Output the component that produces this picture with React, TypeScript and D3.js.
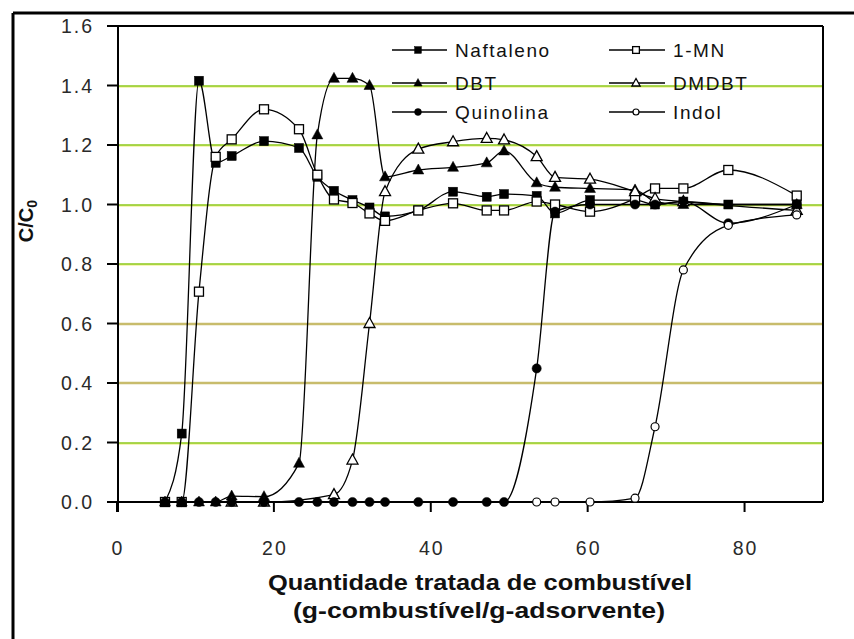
import React from "react";
import * as d3 from "d3";

type Pt = [number, number];

const naftaleno: Pt[] = [[6.12,0],[8.25,0.23],[10.45,1.416],[12.58,1.14],[14.62,1.163],[18.74,1.213],[23.2,1.19],[25.54,1.093],[27.66,1.046],[30.02,1.015],[32.19,0.99],[34.17,0.96],[38.41,0.98],[42.84,1.043],[47.13,1.026],[49.34,1.035],[53.5,1.029],[55.84,0.97],[60.3,1.015],[66.04,1.015],[68.59,1.0],[72.2,1.01],[77.93,1.0],[86.65,1.0]];
const mn1: Pt[] = [[6.12,0],[8.25,0],[10.45,0.707],[12.58,1.16],[14.62,1.219],[18.74,1.32],[23.2,1.253],[25.54,1.1],[27.66,1.017],[30.02,1.005],[32.19,0.97],[34.17,0.945],[38.41,0.98],[42.84,1.004],[47.13,0.98],[49.34,0.98],[53.5,1.01],[55.84,1.0],[60.3,0.976],[66.04,1.02],[68.59,1.054],[72.2,1.054],[77.93,1.116],[86.65,1.03]];
const dbt: Pt[] = [[6.12,0],[8.25,0],[10.45,0],[12.58,0],[14.62,0.02],[18.74,0.018],[23.2,0.13],[25.54,1.234],[27.66,1.424],[30.02,1.424],[32.19,1.4],[34.17,1.093],[38.41,1.116],[42.84,1.125],[47.13,1.14],[49.34,1.18],[53.5,1.073],[55.84,1.058],[60.3,1.054],[66.04,1.049],[68.59,1.01],[72.2,1.0],[86.65,1.0]];
const dmdbt: Pt[] = [[14.62,0],[18.74,0],[27.66,0.025],[30.02,0.141],[32.19,0.6],[34.17,1.043],[38.41,1.186],[42.84,1.211],[47.13,1.222],[49.34,1.217],[53.5,1.161],[55.84,1.091],[60.3,1.085],[66.04,1.043],[68.59,1.02],[72.2,1.01],[86.65,0.98]];
const quinolina: Pt[] = [[6.12,0],[8.25,0],[10.45,0],[12.58,0],[14.62,0],[18.74,0],[23.2,0],[25.54,0],[27.66,0],[30.02,0],[32.19,0],[34.17,0],[38.41,0],[42.84,0],[47.13,0],[49.34,0],[53.5,0.449],[55.84,0.976],[60.3,1.0],[66.04,1.0],[68.59,1.0],[72.2,1.01],[77.93,0.937],[86.65,1.0]];
const indol: Pt[] = [[53.5,0],[55.84,0],[60.3,0],[66.04,0.013],[68.59,0.253],[72.2,0.78],[77.93,0.93],[86.65,0.965]];

const seriesNames = ["Naftaleno", "1-MN", "DBT", "DMDBT", "Quinolina", "Indol"];
const seriesData = [naftaleno, mn1, dbt, dmdbt, quinolina, indol];
const seriesMarkers = ["square", "squareOpen", "triangle", "triangleOpen", "circle", "circleOpen"];

const xTicks = [0, 20, 40, 60, 80];
const yTicks = [0, 0.2, 0.4, 0.6, 0.8, 1.0, 1.2, 1.4, 1.6];

const W = 854, H = 639;
const x = d3.scaleLinear().domain([0, 90]).range([117, 823]);
const y = d3.scaleLinear().domain([0, 1.6]).range([502, 26]);

function Marker({ kind, cx, cy, s = 1 }: { kind: string; cx: number; cy: number; s?: number }) {
  const open = kind.endsWith("Open");
  const fill = open ? "#fff" : "#000";
  const sw = 1.3;
  if (kind.startsWith("square")) {
    const a = 9 * s;
    return <rect x={cx - a / 2} y={cy - a / 2} width={a} height={a} fill={fill} stroke="#000" strokeWidth={open ? sw : 0.5} />;
  }
  if (kind.startsWith("triangle")) {
    const w = 11 * s, h = 10 * s;
    const d = `M${cx},${cy - h * 0.6}L${cx + w / 2},${cy + h * 0.4}L${cx - w / 2},${cy + h * 0.4}Z`;
    return <path d={d} fill={fill} stroke="#000" strokeWidth={open ? sw : 0.5} strokeLinejoin="miter" />;
  }
  const r = (open ? 4 : 4.6) * s;
  return <circle cx={cx} cy={cy} r={r} fill={fill} stroke="#000" strokeWidth={open ? 1.2 : 0.5} />;
}

export default function App() {
  const line = d3.line<Pt>().x(d => x(d[0])).y(d => y(d[1])).curve(d3.curveMonotoneX);
  const tickFont = { fontFamily: "'Liberation Sans', Arial, sans-serif", fontSize: 19.5, letterSpacing: 2, fill: "#2a2a2a" } as const;
  const legendRows = [50, 83, 112];
  const legendCols = [{ l: 392, r: 447, m: 418, t: 455 }, { l: 609, r: 665, m: 636, t: 673 }];
  return (
    <svg width={W} height={H} style={{ position: "absolute", left: 0, top: 0, background: "#fff" }}>
      <rect x={0} y={0} width={W} height={H} fill="#fff" />
      {/* outer frame */}
      <line x1={13} y1={13} x2={W} y2={13} stroke="#000" strokeWidth={3} />
      <line x1={13} y1={13} x2={13} y2={H} stroke="#000" strokeWidth={3} />
      {/* grid */}
      {yTicks.filter(t => t > 0 && t < 1.6).map(t => {
        const khaki = Math.abs(t - 0.6) < 1e-6 || Math.abs(t - 0.4) < 1e-6;
        const yy = Math.round(y(t));
        return khaki ? (
          <g key={t}>
            <line x1={119} x2={823} y1={yy} y2={yy} stroke="#c8bc6c" strokeWidth={2.5} />
          </g>
        ) : (
          <g key={t}>
            <line x1={119} x2={823} y1={yy + 1} y2={yy + 1} stroke="#ecec70" strokeWidth={1} />
            <line x1={119} x2={823} y1={yy} y2={yy} stroke="#8cc81a" strokeWidth={1.4} />
          </g>
        );
      })}
      {/* plot box */}
      <line x1={107} x2={823} y1={y(1.6)} y2={y(1.6)} stroke="#000" strokeWidth={2} />
      <line x1={823} x2={823} y1={y(1.6)} y2={y(0)} stroke="#000" strokeWidth={2} />
      <line x1={118} x2={118} y1={y(1.6)} y2={y(0) + 10} stroke="#000" strokeWidth={2} />
      <line x1={107} x2={823} y1={y(0)} y2={y(0)} stroke="#000" strokeWidth={2} />
      {/* y ticks */}
      {yTicks.map(t => (
        <g key={t}>
          <line x1={107} x2={118} y1={y(t)} y2={y(t)} stroke="#000" strokeWidth={2} />
          <text x={94} y={y(t) + 7} textAnchor="end" {...tickFont}>{d3.format(".1f")(t)}</text>
        </g>
      ))}
      {/* x ticks */}
      {xTicks.map(t => (
        <g key={t}>
          <line x1={x(t)} x2={x(t)} y1={y(0)} y2={y(0) + 10} stroke="#000" strokeWidth={2} />
          <text x={x(t) + 1} y={555} textAnchor="middle" {...tickFont}>{t}</text>
        </g>
      ))}
      {/* series */}
      {seriesData.map((data, i) => (
        <path key={"l" + i} d={line(data) || ""} fill="none" stroke="#000" strokeWidth={1.3} />
      ))}
      {seriesData.map((data, i) => (
        <g key={"m" + i}>
          {data.map((d, j) => <Marker key={j} kind={seriesMarkers[i]} cx={x(d[0])} cy={y(d[1])} />)}
        </g>
      ))}
      {/* legend */}
      {seriesNames.map((name, i) => {
        const row = legendRows[Math.floor(i / 2)];
        const col = legendCols[i % 2];
        return (
          <g key={name}>
            <line x1={col.l} x2={col.r} y1={row} y2={row} stroke="#000" strokeWidth={1.5} />
            <Marker kind={seriesMarkers[i]} cx={col.m} cy={row} s={0.75} />
            <text x={col.t} y={row + 7} fontFamily="'Liberation Sans', Arial, sans-serif" fontSize={19} letterSpacing={1.6} fill="#111">{name}</text>
          </g>
        );
      })}
      {/* axis titles */}
      <text transform="translate(33,221) rotate(-90)" textAnchor="middle" fontFamily="'Liberation Sans', Arial, sans-serif" fontWeight="bold" fontSize={20} fill="#111">
        C/C<tspan fontSize={14} dy={4}>0</tspan>
      </text>
      <text x={480} y={590} textAnchor="middle" fontFamily="'Liberation Sans', Arial, sans-serif" fontWeight="bold" fontSize={22} textLength={424} lengthAdjust="spacingAndGlyphs" fill="#111">Quantidade tratada de combustível</text>
      <text x={479} y={618} textAnchor="middle" fontFamily="'Liberation Sans', Arial, sans-serif" fontWeight="bold" fontSize={22} textLength={372} lengthAdjust="spacingAndGlyphs" fill="#111">(g-combustível/g-adsorvente)</text>
    </svg>
  );
}
